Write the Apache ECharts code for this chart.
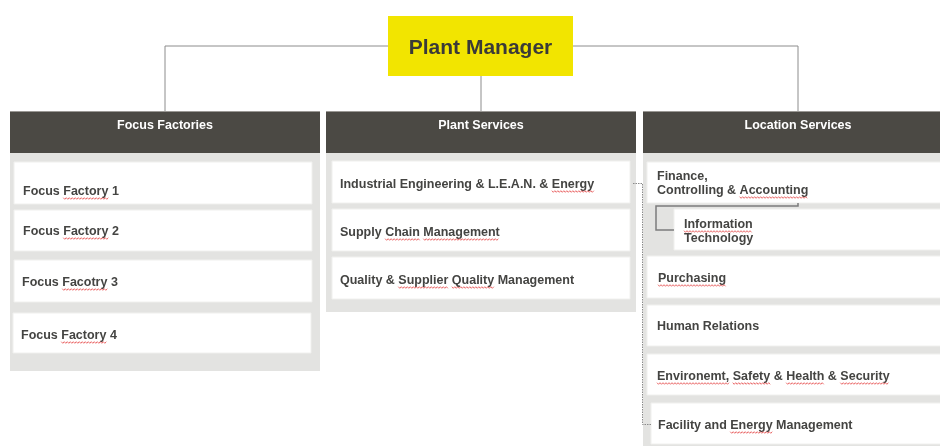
<!DOCTYPE html>
<html><head><meta charset="utf-8">
<script src="https://cdn.jsdelivr.net/npm/echarts@6/dist/echarts.min.js"></script>
<style>html,body{margin:0;padding:0;background:#fff}#c{width:940px;height:446px}</style>
</head><body><div id="c"></div>
<script>
// ---- content ----
const managerTitle = 'Plant Manager';
const departmentTitles = ['Focus Factories', 'Plant Services', 'Location Services'];
const focusFactories = ['Focus Factory 1', 'Focus Factory 2', 'Focus Facotry 3', 'Focus Factory 4'];
const plantServices = ['Industrial Engineering & L.E.A.N. & Energy', 'Supply Chain Management', 'Quality & Supplier Quality Management'];
const locationServices = ['Finance,\nControlling & Accounting', 'Information\nTechnology', 'Purchasing', 'Human Relations', 'Environemt, Safety & Health & Security', 'Facility and Energy Management'];
// spell-check marks: [line, word] pairs per unit
const focusFactoryFlags = [[[0,1]], [[0,1]], [[0,1]], [[0,1]]];
const plantServiceFlags = [[[0,5]], [[0,1],[0,2]], [[0,2],[0,3]]];
const locationServiceFlags = [[[1,2]], [[0,0]], [[0,0]], [], [[0,0],[0,1],[0,3],[0,5]], [[0,2]]];

// ---- layout ----
const FONT = 'Liberation Sans, Arial, sans-serif';
const C = { yellow:'#f2e500', dark:'#4b4944', panel:'#e3e3e1', text:'#444442', line:'#8c8c8c', squiggle:'#e85a5a' };
const boss = { x:388, y:16, w:185, h:60 };
const busY = 46;
const colX = [10, 326, 643], colW = 310, headTop = 111, headH = 42;
const panelBottom = [371, 312, 446];
const textShift = 1.5;
const cardLayout = [
  [{x:14,y:162,w:298,h:42,tx:23,ty:190},{x:14,y:210,w:298,h:41,tx:23,ty:230},{x:14,y:260,w:298,h:42,tx:22,ty:281},{x:13,y:313,w:298,h:40,tx:21,ty:334}],
  [{x:332,y:161,w:298,h:42,tx:340,ty:183},{x:332,y:209,w:298,h:42,tx:340,ty:231},{x:332,y:257,w:298,h:42,tx:340,ty:279}],
  [{x:647,y:162,w:300,h:41,tx:657,ty:182},{x:674,y:209,w:280,h:41,tx:684,ty:230},{x:647,y:256,w:300,h:42,tx:658,ty:277},{x:647,y:305,w:300,h:41,tx:657,ty:325},{x:647,y:354,w:300,h:41,tx:657,ty:375},{x:651,y:403,w:300,h:41,tx:658,ty:424}]
];

const columns = [focusFactories, plantServices, locationServices];
const flags = [focusFactoryFlags, plantServiceFlags, locationServiceFlags];

const mctx = document.createElement('canvas').getContext('2d');
const itemFont = 'bold 12.5px ' + FONT;
mctx.font = itemFont;

const els = [];
// connectors
const centers = colX.map(x => x + colW / 2);
els.push({ type:'polyline', shape:{ points:[[centers[0], headTop],[centers[0], busY],[centers[2], busY],[centers[2], headTop]] }, style:{ stroke:C.line, lineWidth:1, fill:null }, z:1 });
els.push({ type:'line', shape:{ x1:centers[1], y1:boss.y+boss.h, x2:centers[1], y2:headTop }, style:{ stroke:C.line, lineWidth:1 }, z:1 });
// manager
els.push({ type:'rect', shape:{ x:boss.x, y:boss.y, width:boss.w, height:boss.h }, style:{ fill:C.yellow }, z:2 });
els.push({ type:'text', x:boss.x + boss.w/2, y:boss.y + boss.h/2 + 2, style:{ text:managerTitle, font:'bold 21px ' + FONT, fill:'#3a3a38', align:'center', verticalAlign:'middle' }, z:3 });

// columns
departmentTitles.forEach((t, i) => {
  els.push({ type:'rect', shape:{ x:colX[i], y:headTop + headH, width:colW, height:panelBottom[i] - headTop - headH }, style:{ fill:C.panel }, z:2 });
  els.push({ type:'rect', shape:{ x:colX[i], y:headTop, width:colW, height:headH }, style:{ fill:C.dark }, z:3 });
  els.push({ type:'line', shape:{ x1:colX[i], y1:headTop+0.5, x2:colX[i]+colW, y2:headTop+0.5 }, style:{ stroke:'#9a9894', lineWidth:1 }, z:4 });
  els.push({ type:'text', x:centers[i], y:126, style:{ text:t, font:'bold 12.5px ' + FONT, fill:'#ffffff', align:'center', verticalAlign:'middle' }, z:4 });
});

// dotted link Plant Services -> Location Services
els.push({ type:'polyline', shape:{ points:[[633,183.5],[642.5,183.5],[642.5,424.5],[651,424.5]] }, style:{ stroke:'#8a8a8a', lineWidth:1, lineDash:[1.5,1], fill:null }, z:5 });
// IT under Finance
els.push({ type:'polyline', shape:{ points:[[798,203],[798,206],[656,206],[656,230],[674,230]] }, style:{ stroke:'#7c7c7c', lineWidth:1.5, fill:null }, z:5 });

function squiggle(x0, x1, y) {
  const pts = [];
  let up = true;
  for (let x = x0; x <= x1; x += 1.5) { pts.push([x, y + (up ? -0.8 : 0.8)]); up = !up; }
  return { type:'polyline', shape:{ points:pts }, style:{ stroke:C.squiggle, lineWidth:0.9, fill:null }, z:7 };
}

columns.forEach((items, ci) => {
  items.forEach((label, ri) => {
    const L = cardLayout[ci][ri];
    els.push({ type:'rect', shape:{ x:L.x, y:L.y, width:L.w, height:L.h }, style:{ fill:'#ffffff', stroke:'#f0f0ee', lineWidth:1 }, z:4 });
    const lines = label.split('\n');
    const lh = 14;
    const ty = L.ty + textShift;
    els.push({ type:'text', x:L.tx, y:ty, style:{ text:label, font:itemFont, fill:C.text, align:'left', verticalAlign:'middle', lineHeight:lh }, z:6 });
    const top = ty - (lines.length - 1) * lh / 2;
    (flags[ci][ri] || []).forEach(([li, wi]) => {
      const words = lines[li].split(' ');
      const pre = words.slice(0, wi).join(' ') + (wi > 0 ? ' ' : '');
      const xs = L.tx + mctx.measureText(pre).width;
      const xe = xs + mctx.measureText(words[wi]).width;
      els.push(squiggle(xs, xe, top + li * lh + 7));
    });
  });
});

const chart = echarts.init(document.getElementById('c'), null, { renderer:'canvas' });
chart.setOption({ backgroundColor:'#ffffff', animation:false, graphic:{ elements:els } });
</script></body></html>
